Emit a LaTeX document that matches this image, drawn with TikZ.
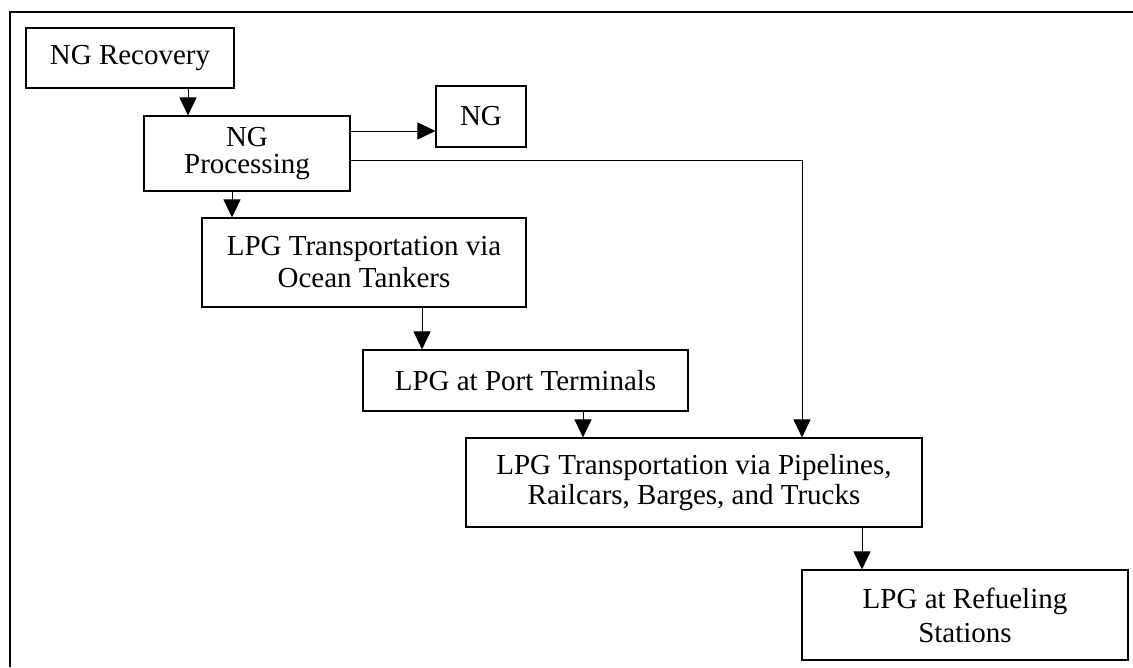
\documentclass[tikz,border=0pt]{standalone}
\usepackage{fontspec}
\setmainfont{Liberation Serif}
\usetikzlibrary{arrows.meta}
\begin{document}
\begin{tikzpicture}[x=1pt,y=-1pt,
  box/.style={draw, line width=1.1pt, inner sep=0pt, align=center,
    font=\fontsize{29}{32}\selectfont},
  arr/.style={line width=1pt, -{Triangle[length=18pt,width=17pt]}},
  conn/.style={line width=1pt}]
\useasboundingbox (0,0) rectangle (1133,667);
\draw[line width=2pt] (10,667) -- (10,12) -- (1133,12);

\node[box, minimum width=208pt, minimum height=60pt] (rec) at (130,58) {NG Recovery};
\node[box, minimum width=206pt, minimum height=75pt, font=\fontsize{29}{27}\selectfont] (proc) at (247,153.5) {NG\\Processing};
\node[box, minimum width=90pt, minimum height=61pt] (ng) at (481,116.5) {NG};
\node[box, minimum width=324pt, minimum height=89pt] (ocean) at (364,262.5) {LPG Transportation via\\Ocean Tankers};
\node[box, minimum width=325pt, minimum height=61pt] (port) at (525.5,380.5) {LPG at Port Terminals};
\node[box, minimum width=456pt, minimum height=89pt, font=\fontsize{29}{30}\selectfont] (pipe) at (694,482.5) {LPG Transportation via Pipelines,\\Railcars, Barges, and Trucks};
\node[box, minimum width=326pt, minimum height=90pt, font=\fontsize{29}{34}\selectfont] (refuel) at (965,615) {LPG at Refueling\\Stations};

\coordinate (c1) at (188,0);
\coordinate (c2) at (0,131);
\coordinate (c3) at (802,160);
\coordinate (c4) at (232,0);
\coordinate (c5) at (422,0);
\coordinate (c6) at (583,0);
\coordinate (c7) at (862,0);

\draw[arr] (rec.south -| c1) -- (proc.north -| c1);
\draw[arr] (proc.east |- c2) -- (ng.west |- c2);
\draw[conn] (proc.east |- c3) -- (c3);
\draw[arr] (c3) -- (pipe.north -| c3);
\draw[arr] (proc.south -| c4) -- (ocean.north -| c4);
\draw[arr] (ocean.south -| c5) -- (port.north -| c5);
\draw[arr] (port.south -| c6) -- (pipe.north -| c6);
\draw[arr] (pipe.south -| c7) -- (refuel.north -| c7);
\end{tikzpicture}
\end{document}
